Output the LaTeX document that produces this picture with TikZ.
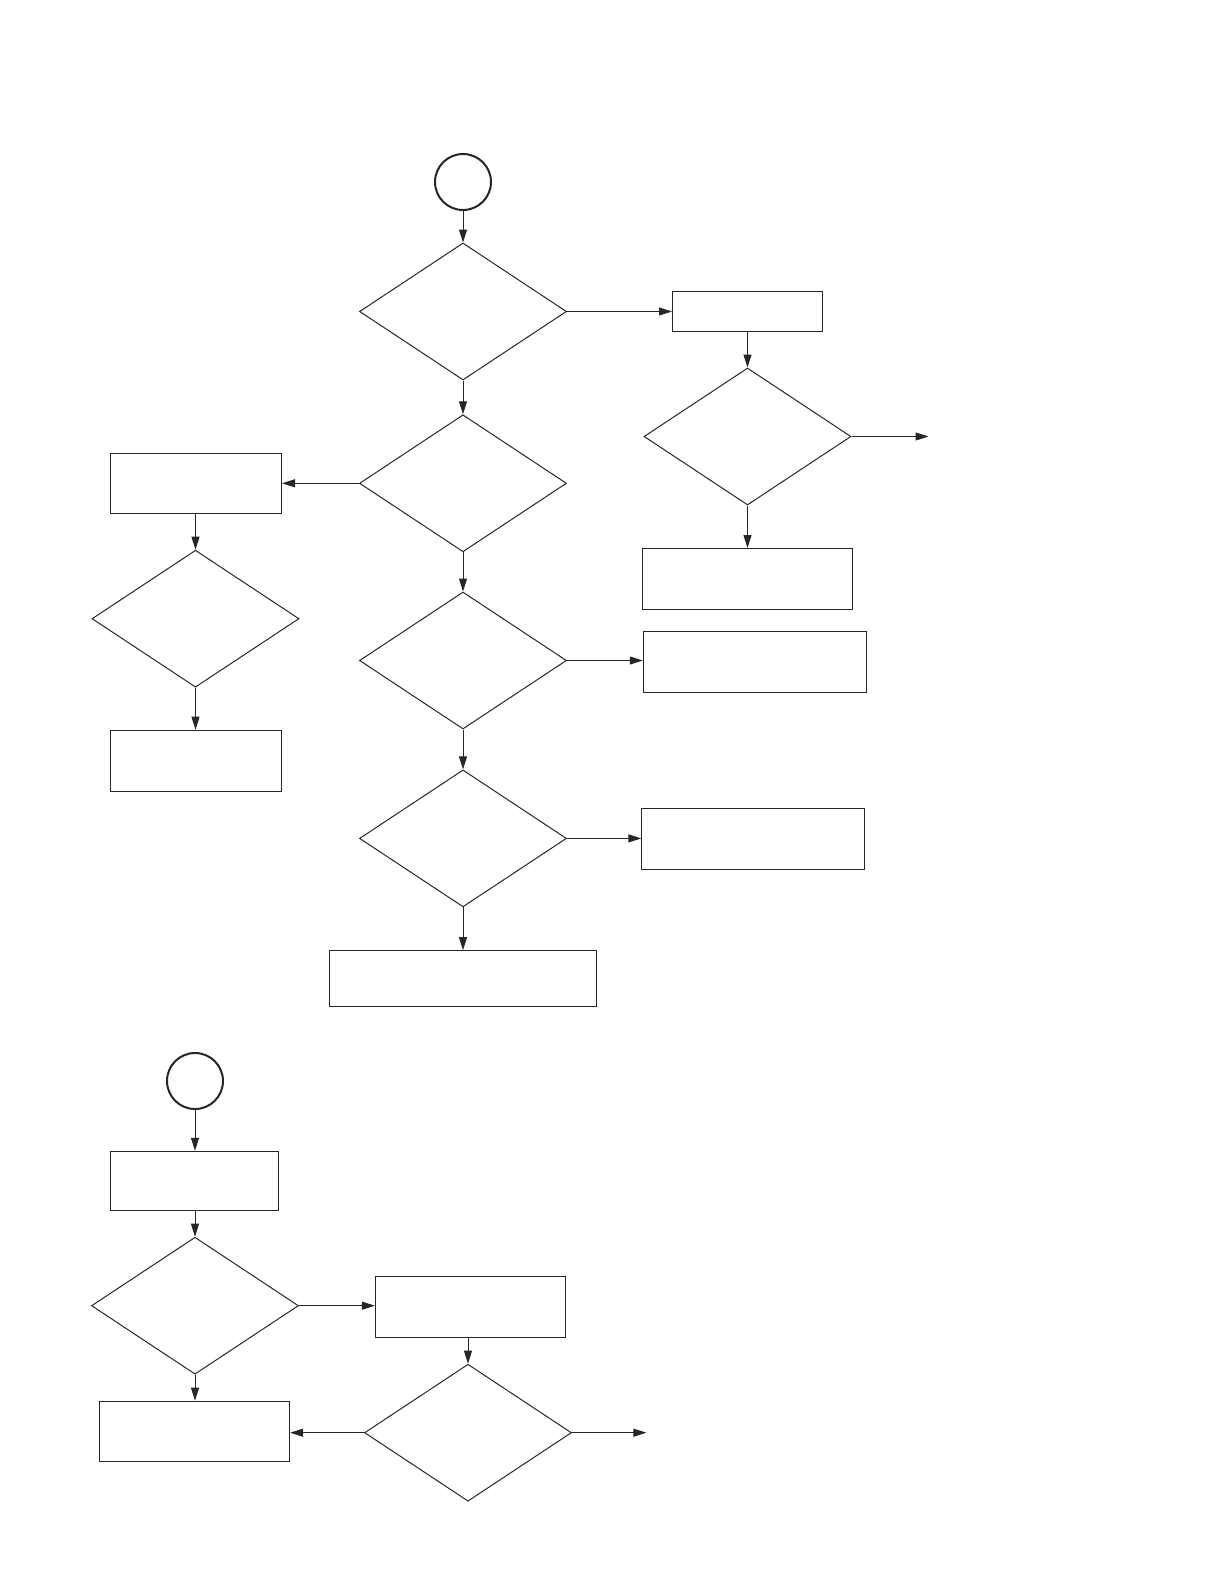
\documentclass[tikz,border=0pt]{standalone}
\usetikzlibrary{shapes.geometric,arrows.meta}
\begin{document}
\begin{tikzpicture}[x=1pt,y=-1pt,
  line width=1pt, draw={black!85},
  term/.style={circle,draw,line width=2pt,minimum size=56pt,inner sep=0pt},
  proc/.style={rectangle,draw,inner sep=0pt},
  dec/.style={diamond,draw,inner sep=0pt,minimum width=207pt,minimum height=137pt},
  arr/.style={-{Triangle[length=13pt,width=8pt]}}]
\useasboundingbox (0,0) rectangle (1219,1587);
% top part
\node[term] (c1) at (463,182) {};
\node[dec] (d1) at (463,311.5) {};
\node[proc,minimum width=150pt,minimum height=40pt] (a) at (747.5,311.5) {};
\node[dec] (d6) at (747.5,436.5) {};
\node[proc,minimum width=210pt,minimum height=61pt] (e) at (747.5,579) {};
\coordinate (o6) at (928.5,436.5);
\node[dec] (d2) at (463,483.3) {};
\node[proc,minimum width=171pt,minimum height=60pt] (b) at (196,483.3) {};
\node[dec] (d3) at (195.5,618.7) {};
\node[proc,minimum width=171pt,minimum height=61pt] (c) at (196,760.7) {};
\node[dec] (d4) at (463,660.5) {};
\node[proc,minimum width=223.5pt,minimum height=61pt] (f) at (755,662.2) {};
\node[dec] (d5) at (463,838.4) {};
\node[proc,minimum width=223pt,minimum height=61pt] (g) at (753.3,839.4) {};
\node[proc,minimum width=267pt,minimum height=56pt] (dd) at (462.7,978.6) {};
% bottom part
\node[term] (c2) at (195,1081) {};
\node[proc,minimum width=168pt,minimum height=59pt] (h) at (194.5,1180.8) {};
\node[dec] (d7) at (195,1305.7) {};
\node[proc,minimum width=190pt,minimum height=61pt] (i) at (470.4,1306.7) {};
\node[dec] (d8) at (468,1432.7) {};
\node[proc,minimum width=190pt,minimum height=60pt] (j) at (194.6,1431.2) {};
\coordinate (o8) at (646.4,1432.7);
% connectors
\draw[arr] (c1) -- (d1.north);
\draw[arr] (d1.east) -- (d1.east -| a.west);
\draw[arr] (a.south -| d6.north) -- (d6.north);
\draw[arr] (d6.east) -- (o6);
\draw[arr] (d6.south) -- (d6.south |- e.north);
\draw[arr] (d1.south) -- (d2.north);
\draw[arr] (d2.west) -- (d2.west -| b.east);
\draw[arr] (b.south -| d3.north) -- (d3.north);
\draw[arr] (d3.south) -- (d3.south |- c.north);
\draw[arr] (d2.south) -- (d4.north);
\draw[arr] (d4.east) -- (d4.east -| f.west);
\draw[arr] (d4.south) -- (d5.north);
\draw[arr] (d5.east) -- (d5.east -| g.west);
\draw[arr] (d5.south) -- (d5.south |- dd.north);
\draw[arr] (c2) -- (c2.south |- h.north);
\draw[arr] (h.south -| d7.north) -- (d7.north);
\draw[arr] (d7.east) -- (d7.east -| i.west);
\draw[arr] (d7.south) -- (d7.south |- j.north);
\draw[arr] (i.south -| d8.north) -- (d8.north);
\draw[arr] (d8.west) -- (d8.west -| j.east);
\draw[arr] (d8.east) -- (o8);
\end{tikzpicture}
\end{document}
